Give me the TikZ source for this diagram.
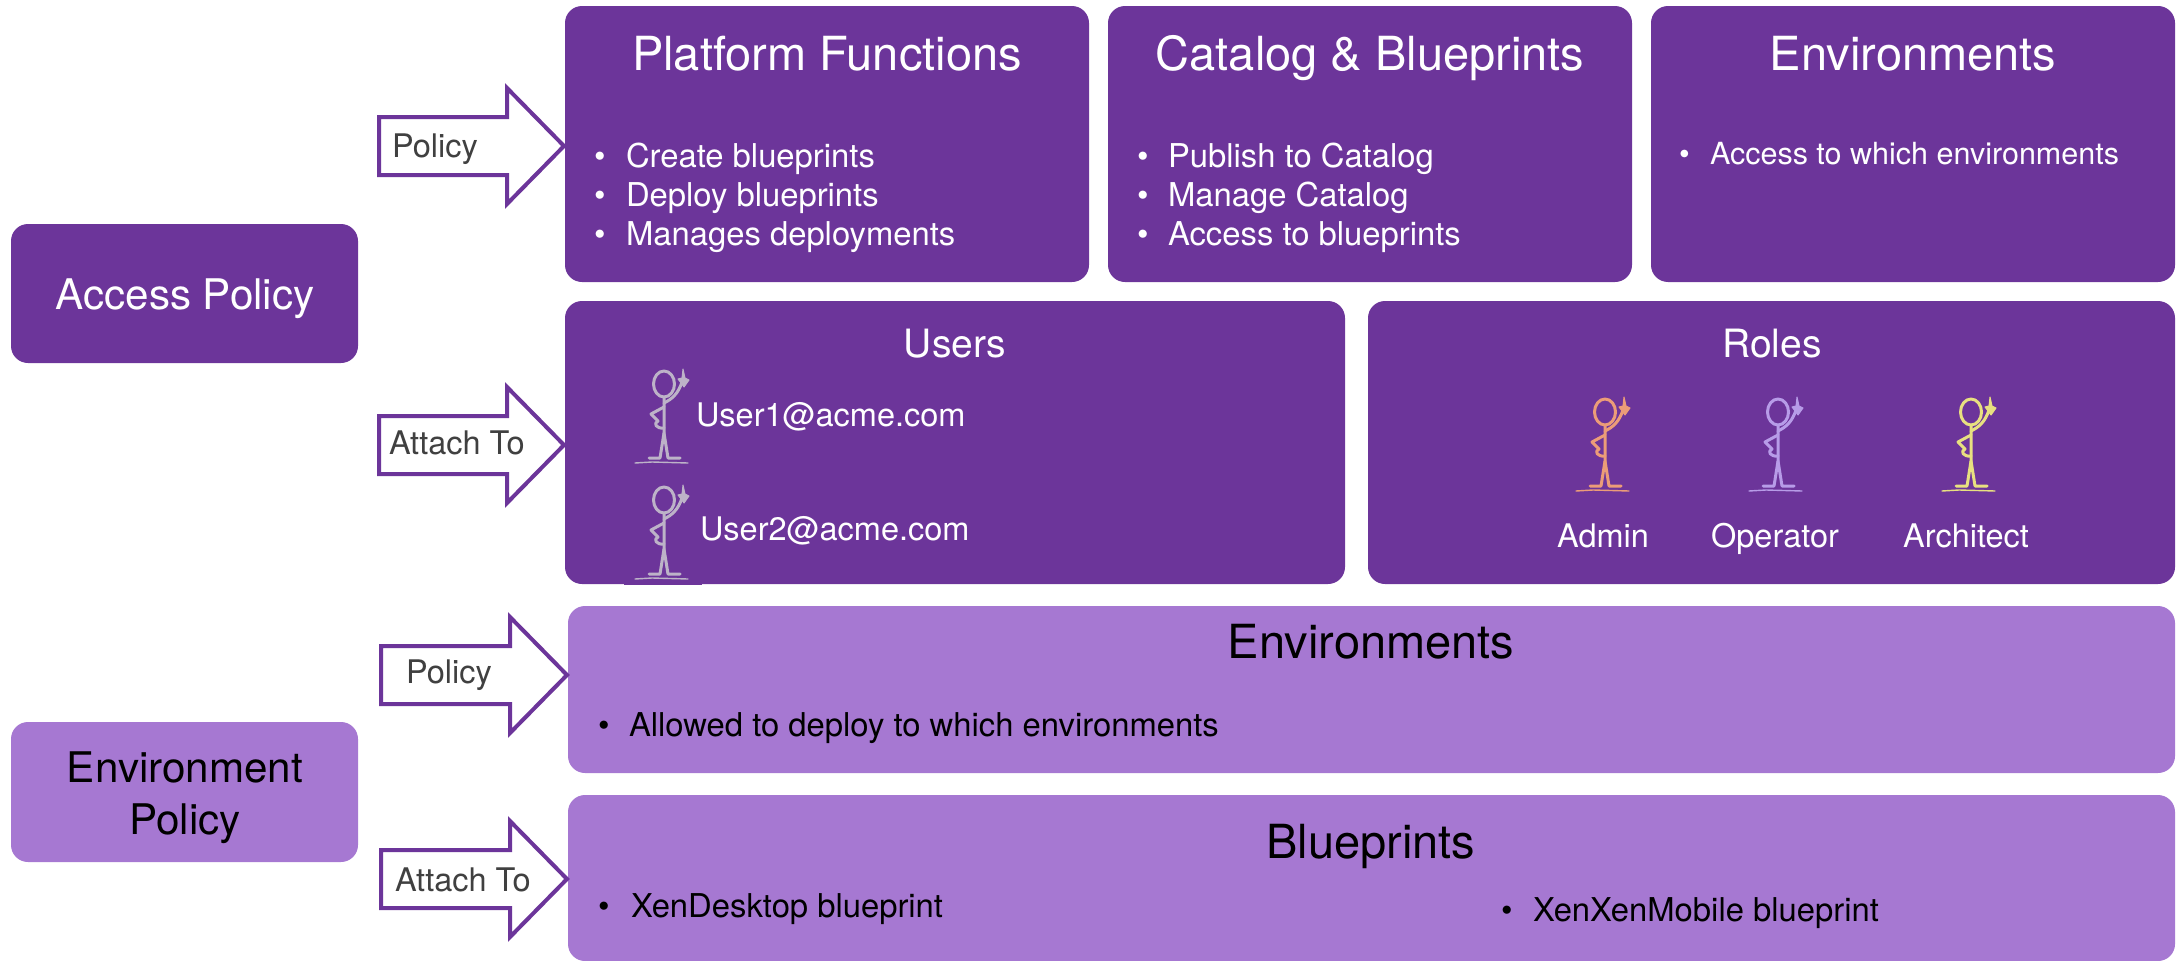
\documentclass[tikz,border=0pt]{standalone}
\usepackage{fontspec}
\setmainfont{TeX Gyre Heros}
\definecolor{deep}{HTML}{6C359A}
\definecolor{soft}{HTML}{A678D2}
\definecolor{arrowtext}{HTML}{404040}
\definecolor{figgray}{HTML}{BDB3C8}
\definecolor{figorange}{HTML}{EC9C78}
\definecolor{figviolet}{HTML}{B79CE8}
\definecolor{figyellow}{HTML}{E8E080}
\tikzset{
  panel/.style={inner sep=0pt,outer sep=0pt,rounded corners=17pt},
  txt/.style={inner sep=0pt,outer sep=0pt},
  lft/.style={txt,anchor=base west},
  ctr/.style={txt,anchor=base},
  blockarrow/.style={draw=deep,line width=4pt,fill=white,miter limit=10},
  fsXL/.style={font=\fontsize{47}{56}\selectfont},
  fsL/.style={font=\fontsize{42.2}{50}\selectfont},
  fsU/.style={font=\fontsize{39}{46}\selectfont},
  fsM/.style={font=\fontsize{32.8}{40}\selectfont},
  fsE/.style={font=\fontsize{30.5}{38}\selectfont},
  fsR/.style={font=\fontsize{32.5}{38}\selectfont},
  fsS/.style={font=\fontsize{32.8}{38}\selectfont},
  fsA/.style={font=\fontsize{32.5}{38}\selectfont,text=arrowtext},
}
\newcommand{\panelbox}[6]{%
  \pgfmathsetmacro{\pw}{#4-#2}\pgfmathsetmacro{\ph}{#5-#3}%
  \pgfmathsetmacro{\pcx}{(#4+#2)/2}\pgfmathsetmacro{\pcy}{(#5+#3)/2}%
  \node[panel,fill=#6,minimum width=\pw pt,minimum height=\ph pt] (#1) at (\pcx,\pcy) {};}
\newcommand{\blockarr}[4]{% name, left, centre y, tip
  \pgfmathsetmacro{\nk}{#4-57}%
  \coordinate (#1tip) at (#4,#3);
  \draw[blockarrow] (#2,#3-29) -- (\nk,#3-29) -- (\nk,#3-58) -- (#1tip) -- (\nk,#3+58) -- (\nk,#3+29) -- (#2,#3+29) -- cycle;}
\newcommand{\bullettext}[6]{% name, bullet x, text x, baseline, style, text
  \node[lft,#5] (#1b) at (#2,#4) {•};
  \node[lft,#5] (#1) at (#3,#4) {#6};}
\newcommand{\stick}[3]{%
  \begin{scope}[shift={(#1,#2)},draw=#3,line width=3pt,line cap=round,line join=round]
    \draw (0,0) ellipse [x radius=10.5pt,y radius=13pt];
    \draw (0,13) -- (0,49) -- (-4,74) -- (-15,74);
    \draw (0,49) -- (4,74) -- (16,74);
    \draw (0,19) .. controls (8,15) and (14,10) .. (18,-2);
    \draw[fill=#3,line width=1pt] (14,-5) -- (18,-6) -- (19,-15) -- (21,-6) -- (25,-4) -- (20,3) -- cycle;
    \draw (0,23) -- (-13,30) -- (-6,37) .. controls (-11,39) and (-8,45) .. (0,44);
    \draw[line width=1.4pt] (-29,79) -- (-12,78) -- (24,79);
  \end{scope}}
\begin{document}
\begin{tikzpicture}[x=1pt,y=-1pt]
\useasboundingbox (0,0) rectangle (2179,961);
% left policies
\panelbox{access}{11}{224}{358}{363}{deep}
\panelbox{envpol}{11}{722}{358}{862}{soft}
\node[ctr,fsL,text=white] (accesst) at (185,309) {Access Policy};
\node[ctr,fsL,text=black] (envpol1) at (185,782) {Environment};
\node[ctr,fsL,text=black] (envpol2) at (185,834) {Policy};
% top row
\panelbox{platform}{565}{6}{1089}{282}{deep}
\panelbox{catalog}{1108}{6}{1632}{282}{deep}
\panelbox{envs}{1651}{6}{2175}{282}{deep}
\node[ctr,fsXL,text=white] (platformt) at (827,70) {Platform Functions};
\node[ctr,fsXL,text=white] (catalogt) at (1370,70) {Catalog \& Blueprints};
\node[ctr,fsXL,text=white] (envst) at (1913,70) {Environments};
\bullettext{p1}{594}{626}{167}{fsM,text=white}{Create blueprints}
\bullettext{p2}{594}{626}{206}{fsM,text=white}{Deploy blueprints}
\bullettext{p3}{594}{626}{245}{fsM,text=white}{Manages deployments}
\bullettext{c1}{1137}{1168}{167}{fsM,text=white}{Publish to Catalog}
\bullettext{c2}{1137}{1168}{206}{fsM,text=white}{Manage Catalog}
\bullettext{c3}{1137}{1168}{245}{fsM,text=white}{Access to blueprints}
\bullettext{e1}{1679}{1710}{164}{fsE,text=white}{Access to which environments}
% users and roles
\panelbox{users}{565}{301}{1345}{584}{deep}
\panelbox{roles}{1368}{301}{2175}{584}{deep}
\fill[deep] (624,580) rectangle (702,585);
\node[ctr,fsU,text=white] (userst) at (955,357) {Users};
\node[ctr,fsU,text=white] (rolest) at (1772,357) {Roles};
\stick{664}{384}{figgray}
\stick{664}{500}{figgray}
\node[lft,fsR,text=white] (u1) at (696,426) {User1@acme.com};
\node[lft,fsR,text=white] (u2) at (700,540) {User2@acme.com};
\stick{1605}{412}{figorange}
\stick{1778}{412}{figviolet}
\stick{1971}{412}{figyellow}
\node[ctr,fsR,text=white] (admin) at (1603,547) {Admin};
\node[ctr,fsR,text=white] (oper) at (1775,547) {Operator};
\node[ctr,fsR,text=white] (arch) at (1966,547) {Architect};
% light panels
\panelbox{envl}{568}{606}{2175}{773}{soft}
\panelbox{bluel}{568}{795}{2175}{961}{soft}
\node[ctr,fsXL,text=black] (envlt) at (1371,658) {Environments};
\node[ctr,fsXL,text=black] (bluelt) at (1371,858) {Blueprints};
\bullettext{el1}{598}{629}{736}{fsS,text=black}{Allowed to deploy to which environments}
\bullettext{b1}{598}{631}{917}{fsS,text=black}{XenDesktop blueprint}
\bullettext{b2}{1501}{1533}{921}{fsS,text=black}{XenXenMobile blueprint}
% arrows
\blockarr{a1}{379}{146}{564}
\blockarr{a2}{379}{445}{564}
\blockarr{a3}{381}{675}{567}
\blockarr{a4}{381}{879}{567}
\node[lft,fsA] (a1t) at (392,157) {Policy};
\node[lft,fsA] (a2t) at (389,454) {Attach To};
\node[lft,fsA] (a3t) at (406,683) {Policy};
\node[lft,fsA] (a4t) at (395,891) {Attach To};
\end{tikzpicture}
\end{document}
